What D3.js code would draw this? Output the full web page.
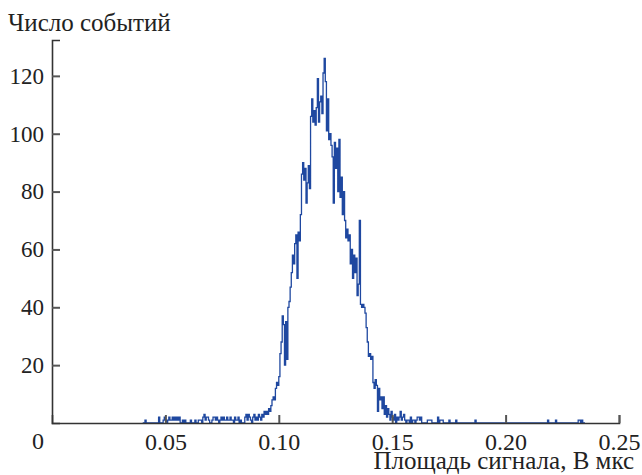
<!DOCTYPE html>
<html>
<head>
<meta charset="utf-8">
<script src="https://cdn.jsdelivr.net/npm/d3@7"></script>
<style>
  body { margin: 0; background: #fff; }
  svg text { font-family: "Liberation Serif", "DejaVu Serif", serif; fill: #222; }
</style>
</head>
<body>
<div id="chart"></div>
<script>
// Datos: histograma de la area de la señal
const binStart = 0.04
const binWidth = 0.0005
const counts = [
  0,0,1,0,0,0,0,0,0,0,
  0,0,0,0,2,0,0,0,1,2,
  1,0,1,2,1,1,2,1,2,1,
  2,1,2,0,0,1,0,1,0,0,
  0,0,1,0,0,0,1,0,0,1,
  1,1,0,2,3,1,2,2,1,0,
  0,1,2,2,1,2,1,0,1,2,
  1,2,1,1,2,1,1,2,1,1,
  0,2,1,1,2,0,1,0,0,0,
  2,3,1,3,2,1,0,2,3,1,
  2,1,3,2,1,3,2,4,3,4,
  3,5,4,6,8,9,8,12,14,13,
  16,24,28,37,34,20,35,22,40,42,
  47,52,58,55,62,65,50,66,63,72,
  86,90,84,88,76,83,89,81,106,112,
  104,108,103,109,119,104,111,113,107,121,
  126,118,101,112,98,100,96,92,76,97,
  88,95,80,98,78,85,72,80,70,64,
  67,63,65,55,60,50,58,52,57,44,
  48,70,41,40,41,40,38,33,28,23,
  24,22,23,14,12,15,13,4,12,8,
  9,5,9,3,6,2,5,3,1,4,
  2,1,3,0,2,1,2,4,1,2,
  3,1,0,1,1,0,2,0,1,1,
  0,1,2,2,1,2,0,0,0,0,
  0,1,1,1,1,0,0,0,0,0,
  2,0,1,1,1,0,0,0,0,0,
  1,0,0,0,0,0,1,0,0,0,
  0,0,0,0,0,0,0,0,0,0,
  0,0,0,1,0,0,0,0,0,0,
  0,0,0,0,0,0,0,0,0,0,
  0,0,0,0,0,0,0,0,0,0,
  0,0,0,0,0,0,0,0,0,0,
  0,0,0,0,0,0,0,0,0,0,
  0,0,0,0,0,0,0,0,0,0,
  0,0,0,0,0,0,0,1,0,0,
  0,0,0,0,1,0,0,0,0,0,
  0,0,0,0,0,0,0,0,0,0,
  0,0,0,0,1,1,0,1,0,0
]
const xTicks = [0.05, 0.10, 0.15, 0.20, 0.25]
const yTicks = [20, 40, 60, 80, 100, 120]
const yLabel = "Число событий"
const xLabel = "Площадь сигнала, В мкс"

// Constantes y SVG
const width = 642
const height = 475
const margin = { top: 40, right: 23, bottom: 52, left: 52 }

const svg = d3.select("#chart").append("svg").attr("width", width).attr("height", height)

// Escalas
const x = d3.scaleLinear().domain([0, 0.25]).range([margin.left, width - margin.right])
const y = d3.scaleLinear().domain([0, 132.4]).range([height - margin.bottom, margin.top])

// Linea escalonada
const points = counts.map((c, i) => [binStart + i * binWidth, c])
points.push([binStart + counts.length * binWidth, 0])

const line = d3.line()
  .x(d => x(d[0]))
  .y(d => y(d[1]))
  .curve(d3.curveStepAfter)

svg.append("path")
  .datum(points)
  .attr("fill", "none")
  .attr("stroke", "#1f48a0")
  .attr("stroke-width", 1.3)
  .attr("d", line)

// Ejes
const xAxis = d3.axisBottom(x).tickValues(xTicks).tickFormat(d3.format(".2f")).tickSize(-8).tickPadding(10)
const yAxis = d3.axisLeft(y).tickValues(yTicks).tickSize(-8).tickPadding(8)

const xAxisGroup = svg.append("g").attr("transform", `translate(0,${height - margin.bottom})`).call(xAxis)
const yAxisGroup = svg.append("g").attr("transform", `translate(${margin.left},0)`).call(yAxis)

xAxisGroup.attr("font-family", null).attr("font-size", 24)
yAxisGroup.attr("font-family", null).attr("font-size", 23)

;[xAxisGroup, yAxisGroup].forEach(g => {
  g.select(".domain").attr("stroke", "#333").attr("stroke-width", 1.6)
  g.selectAll(".tick line").attr("stroke", "#555").attr("stroke-width", 2)
  g.selectAll(".tick text").attr("fill", "#222")
})

// cero en la esquina
svg.append("text")
  .attr("x", 38).attr("y", 449)
  .attr("text-anchor", "middle")
  .attr("font-size", 24)
  .text("0")

// Titulos
svg.append("text")
  .attr("x", 8).attr("y", 31)
  .attr("font-size", 25)
  .text(yLabel)

svg.append("text")
  .attr("x", 634).attr("y", 469)
  .attr("text-anchor", "end")
  .attr("font-size", 25)
  .text(xLabel)
</script>
</body>
</html>
